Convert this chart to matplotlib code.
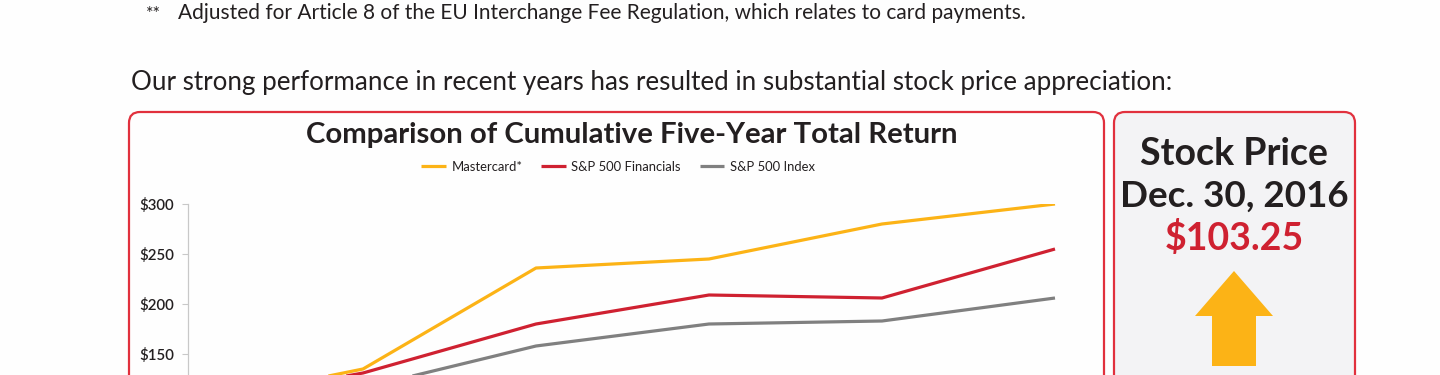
import matplotlib

matplotlib.use("Agg")
import matplotlib.pyplot as plt
from matplotlib.patches import FancyBboxPatch, Polygon

plt.rcParams["font.family"] = ["Lato", "DejaVu Sans"]

# data (growth of $100 invested end of 2011)
years = [2011, 2012, 2013, 2014, 2015, 2016]
mastercard = [100, 135, 236, 245, 280, 300]
sp500_financials = [100, 131, 180, 209, 206, 255]
sp500_index = [100, 116, 158, 180, 183, 206]
series_names = ["Mastercard*", "S&P 500 Financials", "S&P 500 Index"]
# only the ticks inside the visible crop
y_ticks = [150, 200, 250, 300]
y_tick_labels = ["$150", "$200", "$250", "$300"]

YELLOW = "#fcb316"
RED = "#cf2131"
GRAY = "#808080"
BORDER = "#e1303d"
TEXT = "#231f20"

W, H = 1440, 375
fig = plt.figure(figsize=(W / 100, H / 100), dpi=100)
fig.patch.set_facecolor("#fefefe")

# background axes in pixel coordinates for boxes, text and arrow
bg = fig.add_axes([0, 0, 1, 1])
bg.set_xlim(0, W)
bg.set_ylim(H, 0)
bg.axis("off")

bg.text(146, 19, "**", fontsize=13, color=TEXT, va="baseline", ha="left")
bg.text(178, 19, "Adjusted for Article 8 of the EU Interchange Fee Regulation, which relates to card payments.",
        fontsize=15, color=TEXT, va="baseline", ha="left")
bg.text(131, 90, "Our strong performance in recent years has resulted in substantial stock price appreciation:",
        fontsize=18.7, color=TEXT, va="baseline", ha="left")

left_box = FancyBboxPatch((129, 112), 975, 400, boxstyle="round,pad=0,rounding_size=11",
                          facecolor="#fefefe", edgecolor=BORDER, linewidth=1.6)
right_box = FancyBboxPatch((1114, 112), 241, 400, boxstyle="round,pad=0,rounding_size=11",
                           facecolor="#f3f3f5", edgecolor=BORDER, linewidth=1.6)
bg.add_patch(left_box)
bg.add_patch(right_box)

bg.text(632, 143, "Comparison of Cumulative Five-Year Total Return", fontsize=21.2,
        fontweight="bold", color=TEXT, ha="center", va="baseline")

bg.text(1234, 165, "Stock Price", fontsize=27, fontweight="bold", color=TEXT, ha="center", va="baseline")
bg.text(1234, 207, "Dec. 30, 2016", fontsize=26.5, fontweight="bold", color=TEXT, ha="center", va="baseline")
bg.text(1234, 250, "$103.25", fontsize=27, fontweight="bold", color=RED, ha="center", va="baseline")

arrow = Polygon([(1234, 271), (1273, 316), (1256, 316), (1256, 366), (1212, 366),
                 (1212, 316), (1195, 316)], closed=True, facecolor=YELLOW, edgecolor="none")
bg.add_patch(arrow)

# chart axes: $300 at y=204 px, $100 at y=404 px (below the crop)
px_per_year = 173
x_left, x_right = 188, 1080
ax = fig.add_axes([x_left / W, (H - 404) / H, (x_right - x_left) / W, 200 / H])
ax.set_facecolor("none")
ax.set_xlim(years[0] - (190 - x_left) / px_per_year, years[0] + (x_right - 190) / px_per_year)
ax.set_ylim(100, 300)

ax.plot(years, mastercard, color=YELLOW, lw=2.3, label=series_names[0], solid_capstyle="butt")
ax.plot(years, sp500_financials, color=RED, lw=2.3, label=series_names[1], solid_capstyle="butt")
ax.plot(years, sp500_index, color=GRAY, lw=2.3, label=series_names[2], solid_capstyle="butt")

ax.set_yticks(y_ticks)
ax.set_yticklabels(y_tick_labels)
ax.set_xticks(years)
ax.tick_params(axis="y", length=4, width=0.8, color="#c8c8c8", labelsize=10.8, labelcolor=TEXT, pad=6)
# the year labels sit below the visible crop
ax.tick_params(axis="x", length=0, labelbottom=False)
for label in ax.get_yticklabels():
    label.set_fontweight("semibold")
for side in ["top", "right", "bottom"]:
    ax.spines[side].set_visible(False)
ax.spines["left"].set_color("#c8c8c8")
ax.spines["left"].set_linewidth(0.9)

handles, labels = ax.get_legend_handles_labels()
fig.legend(handles, labels, loc="center", bbox_to_anchor=(618 / W, (H - 167) / H), ncol=3,
           frameon=False, fontsize=9.4, handlelength=1.9, handletextpad=0.4, columnspacing=1.45,
           labelcolor=TEXT)

fig.savefig("out.png", dpi=100)
